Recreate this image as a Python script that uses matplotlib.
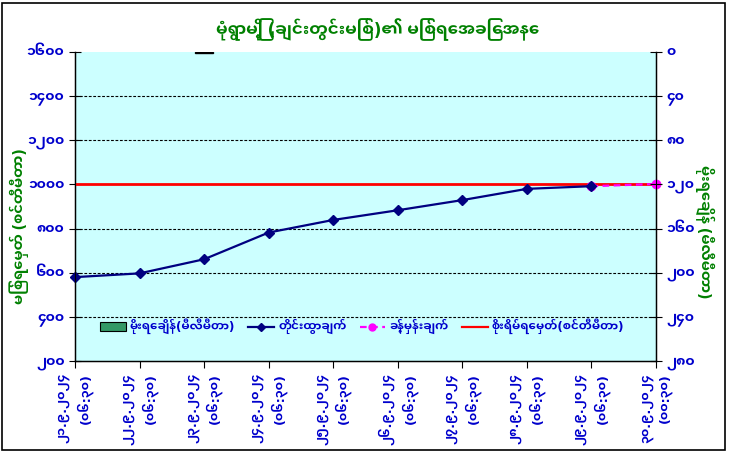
import matplotlib
matplotlib.use("Agg")
import matplotlib.pyplot as plt
import numpy as np
from matplotlib.lines import Line2D
from matplotlib.patches import Patch, Rectangle

FONT = ['Noto Sans Myanmar UI', 'DejaVu Sans']
plt.rcParams['font.family'] = FONT

# ---------------- data ----------------
dates = ['၂၁.၉.၂၀၂၄', '၂၂.၉.၂၀၂၄', '၂၃.၉.၂၀၂၄', '၂၄.၉.၂၀၂၄', '၂၅.၉.၂၀၂၄',
         '၂၆.၉.၂၀၂၄', '၂၇.၉.၂၀၂၄', '၂၈.၉.၂၀၂၄', '၂၉.၉.၂၀၂၄', '၃၀.၉.၂၀၂၄']
times = ['(၀၆:၃၀)', '(၀၆:၃၀)', '(၀၆:၃၀)', '(၀၆:၃၀)', '(၀၆:၃၀)',
         '(၀၆:၃၀)', '(၀၆:၃၀)', '(၀၆:၃၀)', '(၀၆:၃၀)', '(၀၀:၃၀)']
rainfall = [np.nan, np.nan, 1.0, np.nan, np.nan, np.nan, np.nan, np.nan, np.nan, np.nan]
observed = [580, 597, 661, 782, 839, 883, 929, 980, 992]
forecast = [np.nan, np.nan, np.nan, np.nan, np.nan, np.nan, np.nan, np.nan, 992, 1002]
danger = [1000, 1000, 1000, 1000, 1000, 1000, 1000, 1000, 1000, 1000]

left_ticks = [200, 400, 600, 800, 1000, 1200, 1400, 1600]
left_ticklabels = ['၂၀၀', '၄၀၀', '၆၀၀', '၈၀၀', '၁၀၀၀', '၁၂၀၀', '၁၄၀၀', '၁၆၀၀']
right_ticks = [0, 40, 80, 120, 160, 200, 240, 280]
right_ticklabels = ['၀', '၄၀', '၈၀', '၁၂၀', '၁၆၀', '၂၀၀', '၂၄၀', '၂၈၀']

title = 'မုံရွာမြို့ (ချင်းတွင်းမြစ်)၏ မြစ်ရေအခြေအနေ'
ylabel_left = 'မြစ်ရေမှတ် (စင်တီမီတာ)'
ylabel_right = 'မိုးရေချိန် (မီလီမီတာ)'
legend_labels = ['မိုးရေချိန်(မီလီမီတာ)', 'တိုင်းထွာချက်', 'ခန့်မှန်းချက်', 'စိုးရိမ်ရေမှတ်(စင်တီမီတာ)']

# ---------------- style ----------------
GREEN = '#008000'
BLUE = '#0000CC'
NAVY = '#000080'
PINK = '#FF00FF'
RED = '#FF0000'
BAR = '#339966'

fig = plt.figure(figsize=(7.29, 4.55), dpi=100)
fig.patch.set_facecolor('white')
ax = fig.add_axes([75/729, 1 - 361/455, (656 - 75)/729, (361 - 52)/455])
ax.set_facecolor('#CCFFFF')

x = np.arange(len(dates))

ax.set_xlim(0, len(dates) - 1)
ax.set_ylim(200, 1600)
ax.set_yticks(left_ticks)
ax.set_yticklabels(left_ticklabels, color=BLUE, fontsize=10, fontweight='bold')
for yv in left_ticks[1:-1]:
    if yv != 1000:
        ax.axhline(yv, color='black', lw=0.8, ls=(0, (2.5, 1.5)), zorder=1)

ax.plot(x, danger, color=RED, lw=2, zorder=3)
ax.plot(x, forecast, color=PINK, lw=1.6, ls=(0, (3, 2)), marker='o', ms=6, zorder=4,
        clip_on=False)
ax.plot(x[:len(observed)], observed, color=NAVY, lw=1.6, marker='D', ms=5, zorder=5,
        clip_on=False)

ax.set_xticks(x)
ax.set_xticklabels([d + '\n' + t for d, t in zip(dates, times)], rotation=90,
                   color=BLUE, fontsize=9, fontweight='bold', ha='center', va='top',
                   multialignment='right', linespacing=1.5)
ax.tick_params(axis='x', direction='out', length=5, color='black')
ax.tick_params(axis='y', direction='inout', length=8, color='black')
for s in ['left', 'right', 'bottom']:
    ax.spines[s].set_color('black')
    ax.spines[s].set_linewidth(1.0)
ax.spines['top'].set_visible(False)

ax2 = ax.twinx()
ax2.set_ylim(280, 0)
ax2.set_yticks(right_ticks)
ax2.set_yticklabels(right_ticklabels, color=BLUE, fontsize=10, fontweight='bold')
ax2.bar(x, rainfall, width=0.28, color=BAR, edgecolor='black', lw=1.0, zorder=2)
ax2.tick_params(axis='y', direction='inout', length=8, color='black')
ax2.spines['top'].set_visible(False)
ax2.spines['right'].set_color('black')

handles = [Patch(facecolor=BAR, edgecolor='black', lw=0.8),
           Line2D([], [], color=NAVY, lw=1.6, marker='D', ms=4),
           Line2D([], [], color=PINK, lw=1.6, ls=(0, (3, 2)), marker='o', ms=5),
           Line2D([], [], color=RED, lw=1.6)]
leg = ax2.legend(handles, legend_labels, ncol=4, loc='center',
                 bbox_to_anchor=(0.494, 0.113), frameon=False,
                 handlelength=2.2, columnspacing=1.1, handletextpad=0.35,
                 prop={'family': FONT, 'weight': 'bold', 'size': 8.5})
for t in leg.get_texts():
    t.set_color(BLUE)

fig.text(378/729, 1 - 30/455, title, color=GREEN, fontsize=12, fontweight='bold',
         ha='center', va='center')
fig.text(19/729, 1 - 226/455, ylabel_left, color=GREEN, fontsize=10.5, fontweight='bold',
         rotation=90, ha='center', va='center')
fig.text(705/729, 1 - 232/455, ylabel_right, color=GREEN, fontsize=10.5, fontweight='bold',
         rotation=270, ha='center', va='center')

fig.add_artist(Rectangle((2/729, 1 - 450/455), 723/729, 447/455, transform=fig.transFigure,
                         fill=False, edgecolor='black', lw=1.2))

fig.savefig('out.png', dpi=100)
